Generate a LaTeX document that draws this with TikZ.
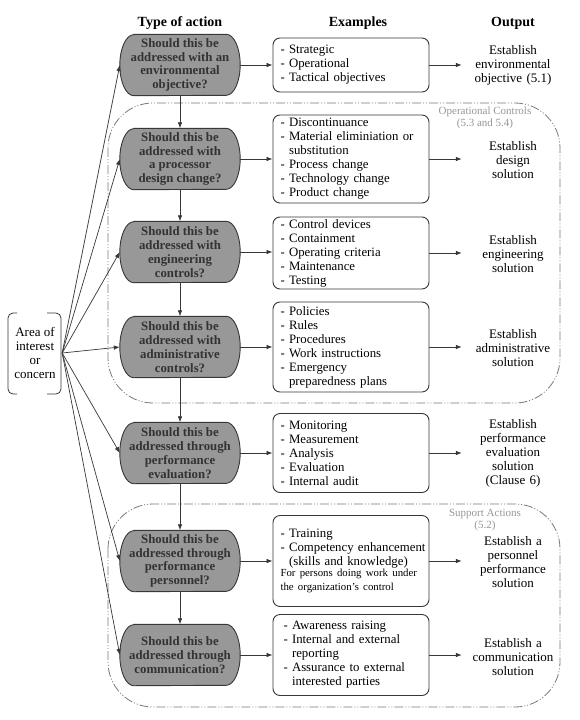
\documentclass[tikz,border=0pt]{standalone}
\usepackage{fontspec}
\setmainfont{Liberation Serif}
\usetikzlibrary{arrows.meta, positioning, calc, backgrounds}
\definecolor{qgray}{RGB}{152,152,152}
\definecolor{inkgray}{RGB}{55,55,55}
\definecolor{zonegray}{RGB}{120,120,120}
\definecolor{labelgray}{RGB}{150,150,150}
\newcommand{\exfont}{\fontsize{12.8}{14}\selectfont\hyphenpenalty=10000\hbadness=10000\hfuzz=20pt\relax}

\tikzset{
  question/.style={minimum width=120pt, minimum height=61pt, inner sep=0pt,
    align=center, text=black!80, font=\bfseries\fontsize{12.8}{13.8}\selectfont},
  qshape/.style={draw=inkgray, fill=qgray, line width=0.9pt},
  examplebox/.style={draw=inkgray, line width=0.9pt, rounded corners=7pt, text width=141pt,
    inner xsep=7.5pt, inner ysep=0pt, align=left, font=\exfont},
  outtext/.style={text width=96pt, inner sep=0pt, align=center, font=\fontsize{13}{14}\selectfont},
  heading/.style={font=\bfseries\fontsize{14}{16}\selectfont},
  zone/.style={draw=zonegray, line width=0.8pt, rounded corners=45pt,
    dash pattern=on 9pt off 2pt on 1pt off 2pt on 1pt off 2pt},
  zonelabel/.style={text=labelgray, align=center, font=\fontsize{11}{11.5}\selectfont},
  flow/.style={draw=inkgray, line width=0.7pt, -{Latex[length=6pt,width=4.5pt]}}
}

\begin{document}
\begin{tikzpicture}[x=1pt,y=1pt]
\useasboundingbox (0,0) rectangle (580,-720);

% zones
\draw[zone] (108,-103) rectangle (560,-403);
\draw[zone] (108,-504) rectangle (560,-707);
\node[zonelabel] (opzone) at (485,-118) {Operational Controls\\(5.3 and 5.4)};
\node[zonelabel] (supzone) at (485,-520) {Support Actions\\(5.2)};

% headings
\node[heading] (htype) at (180,-23) {Type of action};
\node[heading] (hexam) at (358,-23) {Examples};
\node[heading] (hout) at (513,-23) {Output};

% type of action
\node[question] (d1) at (180,-65) {Should this be\\addressed with an\\environmental\\objective?};
\node[question] (d2) at (180,-159) {Should this be\\addressed with\\a processor\\design change?};
\node[question] (d3) at (180,-252) {Should this be\\addressed with\\engineering\\controls?};
\node[question] (d4) at (180,-347) {Should this be\\addressed with\\administrative\\controls?};
\node[question] (d5) at (180,-453) {Should this be\\addressed through\\performance\\evaluation?};
\node[question] (d6) at (180,-561) {Should this be\\addressed through\\performance\\personnel?};
\node[question] (d7) at (180,-655) {Should this be\\addressed through\\communication?};

% rounded ends behind the questions
\begin{scope}[on background layer]
\foreach \n in {1,...,7}
  \draw[qshape] ($(d\n.north west)+(14,0)$) -- ($(d\n.north east)+(-14,0)$)
    arc[start angle=90, end angle=-90, x radius=14, y radius=30.5]
    -- ($(d\n.south west)+(14,0)$)
    arc[start angle=270, end angle=90, x radius=14, y radius=30.5] -- cycle;
\end{scope}

% examples
\node[examplebox, minimum height=54pt] (e1) at (351,-65) {- Strategic\\- Operational\\- Tactical objectives};
\node[examplebox, minimum height=88pt] (e2) at (351,-159) {- Discontinuance\\- Material eliminiation or\\\phantom{- }substitution\\- Process change\\- Technology change\\- Product change};
\node[examplebox, minimum height=72pt] (e3) at (351,-253) {- Control devices\\- Containment\\- Operating criteria\\- Maintenance\\- Testing};
\node[examplebox, minimum height=90pt] (e4) at (351,-347) {- Policies\\- Rules\\- Procedures\\- Work instructions\\- Emergency\\\phantom{- }preparedness plans};
\node[examplebox, minimum height=79pt] (e5) at (351,-453) {- Monitoring\\- Measurement\\- Analysis\\- Evaluation\\- Internal audit};
\node[examplebox, minimum height=91pt] (e6) at (351,-561) {- Training\\\mbox{- Competency enhancement}\\\phantom{- }(skills and knowledge)\par
  \fontsize{10.8}{11.5}\selectfont For persons doing work under\\the organization's control};
\node[examplebox, minimum height=81pt] (e7) at (351,-655) {\hspace*{3pt}- Awareness raising\\\hspace*{3pt}- Internal and external\\\hspace*{3pt}\phantom{- }reporting\\\hspace*{3pt}- Assurance to external\\\hspace*{3pt}\phantom{- }interested parties};

% outputs
\node[outtext] (o1) at (513,-65) {Establish\\environmental\\objective (5.1)};
\node[outtext] (o2) at (513,-160) {Establish\\design\\solution};
\node[outtext] (o3) at (513,-254) {Establish\\engineering\\solution};
\node[outtext] (o4) at (513,-348) {Establish\\administrative\\solution};
\node[outtext] (o5) at (513,-453) {Establish\\performance\\evaluation\\solution\\(Clause 6)};
\node[outtext] (o6) at (513,-562) {Establish a\\personnel\\performance\\solution};
\node[outtext] (o7) at (513,-657) {Establish a\\communication\\solution};

% area of interest
\node[align=center, minimum width=54pt, minimum height=82pt, inner sep=0pt,
  font=\fontsize{13}{14}\selectfont] (area) at (35,-353) {Area of\\interest\\or\\concern};
\draw[inkgray, line width=0.8pt, rounded corners=5pt] (17,-313) -- (8,-313) -- (8,-394) -- (17,-394);
\draw[inkgray, line width=0.8pt, rounded corners=5pt] (47,-313) -- (61,-313) -- (61,-394) -- (47,-394);

% connectors
\foreach \n in {1,...,7} {
  \draw[flow] (area.east) -- (d\n.west);
  \draw[flow] (d\n.east) -- (d\n.east -| e\n.west);
  \draw[flow] (e\n.east) -- ($(e\n.east -| o\n.west)+(-3,0)$);
}
\foreach \a/\b in {1/2,2/3,3/4,4/5,5/6,6/7}
  \draw[flow] (d\a.south) -- (d\b.north);
\end{tikzpicture}
\end{document}
